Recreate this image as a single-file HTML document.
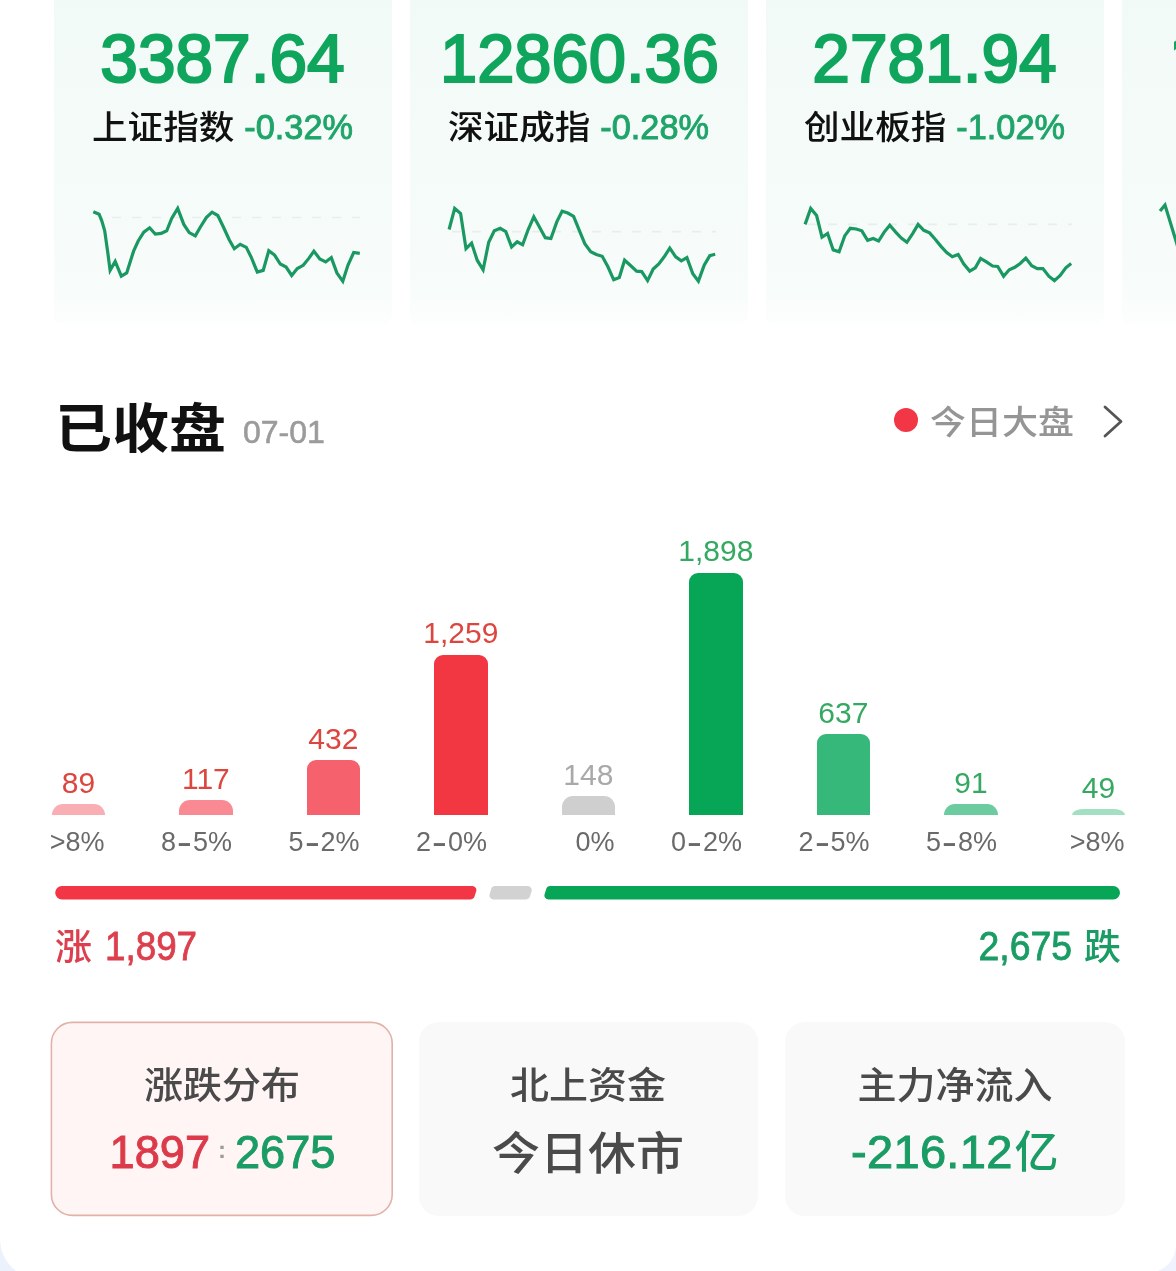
<!DOCTYPE html>
<html lang="zh-CN">
<head>
<meta charset="utf-8">
<title>已收盘</title>
<style>
html,body{margin:0;padding:0}
body{width:1176px;height:1271px;overflow:hidden;background:#fff;font-family:"Liberation Sans","Noto Sans CJK SC",sans-serif;position:relative}
#wrap{position:absolute;left:0;top:-40px;width:1176px;height:1311px;background:#fff;overflow:hidden}
#page{position:absolute;left:0;top:40px;width:1176px;height:1271px}
.abs{position:absolute;white-space:nowrap}
.card{position:absolute;top:-10px;height:337px;width:337.5px;background:linear-gradient(180deg,#f2faf8 0%,#f4fbf9 47%,#f8fcfb 91%,#fafdfc 93.5%,#fcfefd 98%,#ffffff 100%);border-radius:0 0 12px 12px}
.big{position:absolute;top:19px;height:80px;line-height:80px;font-size:68.5px;font-weight:400;color:#10a55d;-webkit-text-stroke:2.2px #10a55d;text-align:center;white-space:nowrap;transform-origin:50% 50%;transform:scaleX(.987)}
.sub{position:absolute;top:104px;height:48px;line-height:48px;text-align:center;white-space:nowrap;font-size:35.6px;font-weight:500;color:#111}
.cj{display:inline-block;transform:scaleY(.93);transform-origin:50% 55%}
.dg{display:inline-block;font-size:40px;font-weight:400;-webkit-text-stroke:.8px currentColor}
.sub b{font-weight:400;font-size:34.3px;color:#1fa469;-webkit-text-stroke:.9px #1fa469;margin-left:10px;position:relative;top:-1px}
.bar{position:absolute;width:53.6px}
.bv{position:absolute;width:120px;text-align:center;font-size:30px;line-height:36px;height:36px;white-space:nowrap}
.bv.r{color:#dc463e}
.bv.g{color:#35a862}
.bv.n{color:#a9a9a9}
.bl i{display:inline-block;font-style:normal;width:17px;text-align:center;transform:scale(1.7,1.35)}
.bl{position:absolute;width:140px;text-align:right;font-size:27px;line-height:34px;height:34px;color:#6a6a6a;white-space:nowrap}
.pill{position:absolute;top:886px;height:14px;border-radius:7px}
.tab{position:absolute;top:1022px;height:194px;border-radius:20px;background:#f9f9f9;box-sizing:border-box}
.tt{position:absolute;top:1060px;height:54px;line-height:54px;text-align:center;font-size:39px;font-weight:500;color:#4a4a4a;white-space:nowrap;transform:scaleY(.95)}
.tv{position:absolute;top:1120px;height:64px;line-height:64px;font-size:47px;white-space:nowrap;-webkit-text-stroke:1px currentColor}
</style>
</head>
<body>
<div id="wrap"><div id="page">

<div class="card" style="left:54px"></div>
<div class="card" style="left:410px"></div>
<div class="card" style="left:766px"></div>
<div class="card" style="left:1122px"></div>

<div class="big" style="left:54px;width:337px">3387.64</div>
<div class="big" style="left:410.5px;width:337px;transform:scaleX(.977)">12860.36</div>
<div class="big" style="left:766px;width:337px">2781.94</div>
<div class="big" style="left:1168.5px;width:337px;text-align:left;transform:none;clip-path:inset(0 0 34px 0)">1</div>

<div class="sub" style="left:54px;width:337px"><span class="cj">上证指数</span><b>-0.32%</b></div>
<div class="sub" style="left:410px;width:337px"><span class="cj">深证成指</span><b>-0.28%</b></div>
<div class="sub" style="left:766px;width:337px"><span class="cj">创业板指</span><b>-1.02%</b></div>

<svg class="abs" style="left:0;top:0" width="1176" height="340" viewBox="0 0 1176 340" fill="none">
  <g stroke="#e7eeeb" stroke-width="1.6" stroke-dasharray="9 11">
    <line x1="112" y1="217.5" x2="360" y2="217.5"/>
    <line x1="452" y1="231.6" x2="716" y2="231.6"/>
    <line x1="808" y1="224.4" x2="1072" y2="224.4"/>
  </g>
  <g stroke="#1a9862" stroke-width="3.2" stroke-linejoin="miter" stroke-linecap="butt">
    <polyline points="93.3,211.7 99.1,214.2 101.7,220.6 104.7,230.8 107.6,251.2 110.1,270.4 115.2,261.4 121.3,276.2 126.7,272.9 130.3,261.4 133.6,251.2 138.2,241.0 143.8,232.1 149.6,227.8 155.3,234.1 161.1,233.4 166.7,230.8 171.8,218.1 177.7,208.4 183.8,224.4 189.2,232.6 195.3,235.9 200.4,227.0 206.3,217.6 212.1,212.2 217.8,215.5 223.4,227.0 229.2,239.7 234.3,248.7 240.2,244.3 246.3,247.4 251.4,257.6 257.3,272.1 263.2,270.4 268.8,250.7 274.6,255.1 280.3,264.0 286.1,267.0 291.7,275.5 297.3,268.6 303.2,265.3 308.8,258.4 313.9,251.2 319.8,258.9 325.7,261.9 331.3,257.6 336.9,272.9 342.8,281.3 347.9,265.3 353.7,252.5 359.8,253.3"/>
    <polyline points="449.1,229.5 454.7,208.4 460.6,213.5 466.0,248.7 471.6,243.1 477.2,260.2 483.1,269.8 488.7,242.3 494.3,230.8 500.2,228.3 505.8,231.6 511.6,246.9 517.2,241.8 522.6,244.8 528.2,229.5 533.8,216.8 539.7,227.5 545.3,237.7 550.9,238.5 556.8,221.9 562.1,211.2 567.8,213.0 573.6,216.3 579.2,230.1 584.8,243.6 590.7,251.7 596.3,254.5 602.2,256.3 607.8,266.5 613.7,279.8 619.3,277.5 624.6,260.2 630.8,265.8 636.6,271.1 641.7,271.6 647.6,280.6 653.2,269.1 658.8,264.0 664.2,256.8 669.8,248.2 675.7,256.8 681.3,260.9 686.9,257.6 692.8,273.7 698.4,281.1 704.2,265.3 709.8,255.6 715.2,254.3"/>
    <polyline points="805.1,224.4 810.7,208.4 816.6,215.5 822.0,237.2 827.6,233.4 833.2,249.9 839.1,251.7 844.7,235.9 850.3,228.3 856.2,229.0 861.8,230.8 867.6,240.3 873.2,238.5 878.6,241.0 884.2,232.1 889.8,225.2 895.7,232.1 901.3,238.0 906.9,242.3 912.8,233.4 918.1,224.4 923.8,230.3 929.6,232.9 935.2,239.2 940.8,246.1 946.7,252.5 952.3,256.8 958.2,254.5 963.8,264.0 969.7,271.1 975.3,267.8 980.6,258.4 986.8,262.2 992.6,266.0 997.7,266.5 1003.6,276.2 1009.2,269.8 1014.8,267.3 1020.2,263.5 1025.8,258.1 1031.7,265.8 1037.3,268.6 1042.9,268.6 1048.8,276.2 1054.4,280.6 1060.2,275.5 1065.8,267.8 1071.2,263.5"/>
    <polyline points="1160,211 1165,205 1176,241 1180,255"/>
  </g>
</svg>

<div class="abs" id="ttl" style="left:55px;top:388.7px;height:80px;line-height:80px;font-size:57px;font-weight:700;color:#111;transform:scaleY(.94)">已收盘</div>
<div class="abs" id="date" style="left:243px;top:412px;height:40px;line-height:40px;font-size:32px;color:#9b9b9b;-webkit-text-stroke:.6px #9b9b9b">07-01</div>
<div class="abs" style="left:894px;top:408px;width:24px;height:24px;border-radius:50%;background:#f23645"></div>
<div class="abs" id="today" style="left:930px;top:397.5px;font-weight:500;height:50px;line-height:50px;font-size:36px;color:#959595;transform:scaleY(.93)">今日大盘</div>
<svg class="abs" style="left:1096px;top:399px" width="34" height="44" viewBox="0 0 34 44" fill="none"><path d="M9 8 L25 22.5 L9 37" stroke="#555" stroke-width="2.8" stroke-linecap="round" stroke-linejoin="round"/></svg>

<div class="bar" style="left:51.6px;top:804px;height:11px;background:#f9aeb4;border-radius:11px 11px 0 0 / 11px 11px 0 0"></div>
<div class="bv r" style="left:18.400000000000006px;top:765px">89</div>
<div class="bl" style="left:-35.400000000000006px;top:825px">&gt;8%</div>
<div class="bar" style="left:179.1px;top:800px;height:15px;background:#f98a93;border-radius:11px 11px 0 0 / 11px 11px 0 0"></div>
<div class="bv r" style="left:145.9px;top:761px">117</div>
<div class="bl" style="left:92.1px;top:825px">8<i>-</i>5%</div>
<div class="bar" style="left:306.6px;top:760px;height:55px;background:#f5616c;border-radius:9px 9px 0 0 / 9px 9px 0 0"></div>
<div class="bv r" style="left:273.40000000000003px;top:721px">432</div>
<div class="bl" style="left:219.60000000000002px;top:825px">5<i>-</i>2%</div>
<div class="bar" style="left:434.1px;top:654.5px;height:160.5px;background:#f23642;border-radius:9px 9px 0 0 / 9px 9px 0 0"></div>
<div class="bv r" style="left:400.90000000000003px;top:615px">1,259</div>
<div class="bl" style="left:347.1px;top:825px">2<i>-</i>0%</div>
<div class="bar" style="left:561.6px;top:796px;height:19px;background:#cfcfcf;border-radius:11px 11px 0 0 / 11px 11px 0 0"></div>
<div class="bv n" style="left:528.4px;top:757px">148</div>
<div class="bl" style="left:474.6px;top:825px">0%</div>
<div class="bar" style="left:689.1px;top:572.5px;height:242.5px;background:#07a656;border-radius:9px 9px 0 0 / 9px 9px 0 0"></div>
<div class="bv g" style="left:655.9px;top:533px">1,898</div>
<div class="bl" style="left:602.1px;top:825px">0<i>-</i>2%</div>
<div class="bar" style="left:816.6px;top:733.5px;height:81.5px;background:#35b87a;border-radius:9px 9px 0 0 / 9px 9px 0 0"></div>
<div class="bv g" style="left:783.4px;top:695px">637</div>
<div class="bl" style="left:729.6px;top:825px">2<i>-</i>5%</div>
<div class="bar" style="left:944.1px;top:803.5px;height:11.5px;background:#6ccb9f;border-radius:11px 11px 0 0 / 11px 11px 0 0"></div>
<div class="bv g" style="left:910.9px;top:765px">91</div>
<div class="bl" style="left:857.1px;top:825px">5<i>-</i>8%</div>
<div class="bar" style="left:1071.6px;top:809px;height:6px;background:#a3dfc2;border-radius:11px 11px 0 0 / 6px 6px 0 0"></div>
<div class="bv g" style="left:1038.3999999999999px;top:770px">49</div>
<div class="bl" style="left:984.5999999999999px;top:825px">&gt;8%</div>

<svg class="abs" style="left:0;top:880px" width="1176" height="26" viewBox="0 880 1176 26">
  <path d="M55.2 892.7 A6.69 6.69 0 0 1 61.9 886.0 L472.4 886.0 A4 4 0 0 1 476.2 891.2 L474.5 896.6 A4 4 0 0 1 470.7 899.4 L61.9 899.4 A6.69 6.69 0 0 1 55.2 892.7 Z" fill="#f23645"/>
  <path d="M491.3 888.8 A4 4 0 0 1 495.1 886.0 L527.8 886.0 A4 4 0 0 1 531.6 891.2 L529.9 896.6 A4 4 0 0 1 526.1 899.4 L493.4 899.4 A4 4 0 0 1 489.6 894.2 Z" fill="#d2d2d2"/>
  <path d="M546.3 888.8 A4 4 0 0 1 550.1 886.0 L1113.3 886.0 A6.69 6.69 0 0 1 1120.0 892.7 L1120.0 892.7 A6.69 6.69 0 0 1 1113.3 899.4 L548.4 899.4 A4 4 0 0 1 544.6 894.2 Z" fill="#07a656"/>
</svg>

<div class="abs" id="up" style="left:55px;top:920px;height:52px;line-height:52px;font-size:37px;font-weight:500;color:#dc3f4d"><span class="cj" style="transform:scaleY(.98)">涨</span> <span class="dg" style="margin-left:2.7px;transform-origin:0 50%;transform:scaleX(.92)">1,897</span></div>
<div class="abs" id="down" style="right:55px;top:920px;height:52px;line-height:52px;font-size:37px;font-weight:500;color:#1a9c64;text-align:right"><span class="dg" style="margin-right:1.7px;transform-origin:100% 50%;transform:scaleX(.935)">2,675</span> <span class="cj" style="transform:scaleY(.98)">跌</span></div>

<svg class="abs" style="left:48px;top:1019px" width="348" height="200" viewBox="48 1019 348 200"><rect x="51.4" y="1022.4" width="340.8" height="193" rx="21" ry="21" fill="#fff5f4" stroke="#e1b2a9" stroke-width="1.6"/></svg>
<div class="tab" style="left:419px;width:339px"></div>
<div class="tab" style="left:785px;width:340px"></div>

<div class="tt" id="t1" style="left:72px;width:300px">涨跌分布</div>
<div class="tt" id="t2" style="left:438px;width:300px">北上资金</div>
<div class="tt" id="t3" style="left:805px;width:300px">主力净流入</div>

<div class="tv" id="v1a" style="left:10px;width:200px;text-align:right;color:#dc3a4a;transform-origin:100% 50%;transform:scaleX(.96)">1897</div>
<div class="tv" id="v1c" style="left:212px;width:20px;text-align:center;color:#9c9c9c;font-size:24px;font-weight:700;top:1118px;-webkit-text-stroke:0">:</div>
<div class="tv" id="v1b" style="left:234.8px;width:200px;text-align:left;color:#1a9c64;transform-origin:0 50%;transform:scaleX(.96)">2675</div>
<div class="tv" id="v2" style="left:438px;top:1122.5px;width:300px;text-align:center;color:#4a4a4a;font-size:48px;font-weight:500;-webkit-text-stroke:0;transform:scaleY(.95)">今日休市</div>
<div class="tv" id="v3" style="left:805px;width:300px;text-align:center;color:#1a9c64;letter-spacing:.3px">-216.12<span style="font-size:44px;font-weight:500;-webkit-text-stroke:0;margin-left:2px">亿</span></div>

<svg class="abs" style="left:0;top:1221px" width="1176" height="50" viewBox="0 1221 1176 50">
  <path d="M0 1238 A42 42 0 0 0 16 1271 L0 1271 Z" fill="#ecf2fc"/>
  <path d="M1176 1244 A28 28 0 0 1 1156 1271.5 L1176 1271.5 Z" fill="#f0f3fd"/>
</svg>

</div></div>
</body>
</html>
